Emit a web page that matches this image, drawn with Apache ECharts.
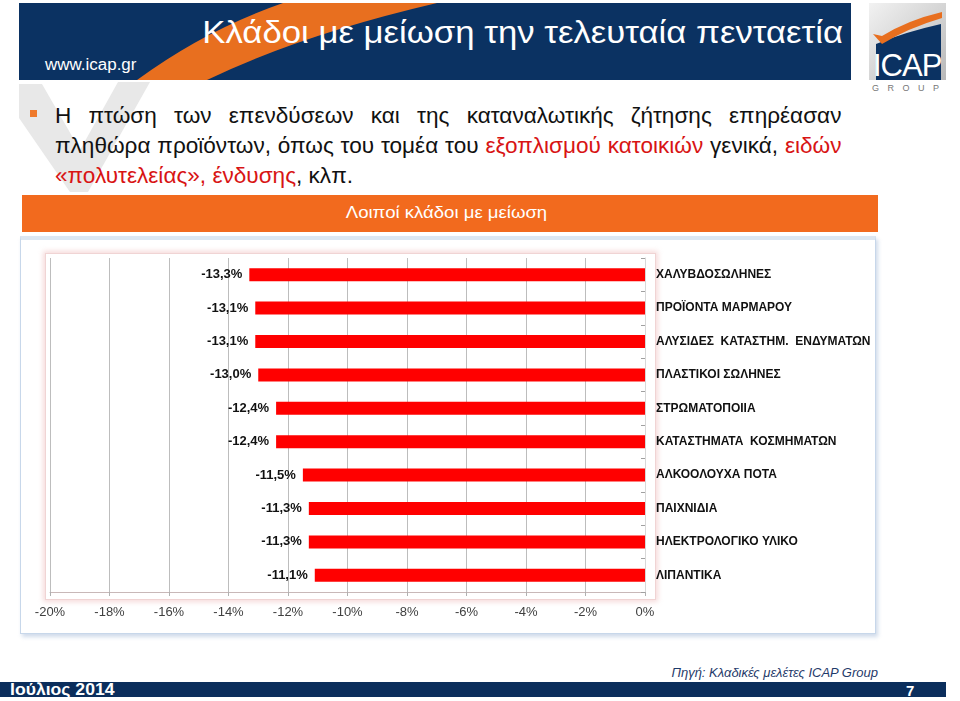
<!DOCTYPE html>
<html>
<head>
<meta charset="utf-8">
<script src="https://cdn.jsdelivr.net/npm/echarts@6/dist/echarts.min.js"></script>
<style>
  html, body { margin: 0; padding: 0; background: #fff; }
  body { width: 960px; height: 701px; position: relative; overflow: hidden;
         font-family: "Liberation Sans", Arial, sans-serif; }
  .abs { position: absolute; line-height: 1; white-space: nowrap; }
  .line { position: absolute; left: 55px; width: 749px; font-size: 21.5px; line-height: 1; color: #111;
          white-space: nowrap; transform: scaleX(1.05); transform-origin: left top; }
  .just { text-align: justify; text-align-last: justify; }
  .red { color: #d81414; }
  #chart { position: absolute; left: 0; top: 0; width: 960px; height: 701px; z-index: 5; }
</style>
</head>
<body>
  <!-- header -->
  <svg class="abs" style="left:0;top:0" width="960" height="200">
    <polygon points="19,84 42,84 80,150 118,82 150,82 88,192 70,192 19,118" fill="#e8e8e8"/>
    <rect x="19" y="3" width="832" height="77" fill="#0b3262"/>
    <path d="M137,80 Q205,30 283,3 L437,3 Q300,35 207,80 Z" fill="#e86f1f"/>
    <defs>
      <linearGradient id="lg" x1="0" y1="0" x2="1" y2="1">
        <stop offset="0" stop-color="#f2f2f2"/><stop offset="1" stop-color="#b8b8b8"/>
      </linearGradient>
    </defs>
    <rect x="869" y="3" width="77" height="77" fill="url(#lg)"/>
    <path d="M876,44 Q905,32 941,24 L941,80 L876,80 Z" fill="#0b3262"/>
    <path d="M873,34 L882,44 Q908,28 942,18 L942,12 Q908,20 882,36 Z" fill="#e86f1f"/>
  </svg>
  <div class="abs" style="left:873px;top:50px;font-size:31px;color:#fff;letter-spacing:-1px;">ICAP</div>
  <div class="abs" style="left:872px;top:84px;font-size:9px;color:#777;letter-spacing:8.5px;">GROUP</div>
  <div class="abs" style="right:117px;top:17px;font-size:31px;color:#fff;transform:scaleX(1.12);transform-origin:right top;">Κλάδοι με μείωση την τελευταία πενταετία</div>
  <div class="abs" style="left:45px;top:57px;font-size:16px;color:#fff;transform:scaleX(1.06);transform-origin:left top;">www.icap.gr</div>

  <!-- bullet text -->
  <div class="abs" style="left:30px;top:110px;width:7px;height:7px;background:#ef7a2c;"></div>
  <div class="line just" style="top:106px;">Η πτώση των επενδύσεων και της καταναλωτικής ζήτησης επηρέασαν</div>
  <div class="line just" style="top:136px;">πληθώρα προϊόντων, όπως του τομέα του <span class="red">εξοπλισμού κατοικιών</span> γενικά, <span class="red">ειδών</span></div>
  <div class="line" style="top:166px;"><span class="red">«πολυτελείας», ένδυσης</span>, κλπ.</div>

  <!-- orange chart title bar -->
  <div class="abs" style="left:22px;top:195px;width:856px;height:37px;background:#f26a1e;"></div>
  <div class="abs" style="left:22px;top:205px;width:856px;text-align:center;font-size:16px;color:#fff;transform:scaleX(1.16);transform-origin:450px top;">Λοιποί κλάδοι με μείωση</div>

  <!-- panels -->
  <div class="abs" style="left:20px;top:236px;width:854px;height:393px;background:#fff;border:1px solid #c7d7ea;border-top:4px solid #dce6f1;box-shadow:2px 3px 4px rgba(150,175,210,0.45);"></div>
  <div class="abs" style="left:45px;top:253px;width:609px;height:345px;background:#fff;border:1px solid #f0d4d4;box-shadow:0 0 5px 2px rgba(235,175,175,0.45);"></div>

  <!-- footer -->
  <div class="abs" style="right:82px;top:666px;font-size:13px;font-style:italic;color:#1f3a6a;">Πηγή: Κλαδικές μελέτες ICAP Group</div>
  <div class="abs" style="left:0;top:682px;width:946px;height:15px;background:#0b2e5c;"></div>
  <div class="abs" style="left:10px;top:682px;font-size:16px;font-weight:bold;color:#fff;transform:scaleX(1.1);transform-origin:left top;">Ιούλιος 2014</div>
  <div class="abs" style="left:906px;top:683px;font-size:15px;font-weight:bold;color:#fff;">7</div>

  <div id="chart"></div>

<script>
const categories = [
  "ΧΑΛΥΒΔΟΣΩΛΗΝΕΣ",
  "ΠΡΟΪΟΝΤΑ ΜΑΡΜΑΡΟΥ",
  "ΑΛΥΣΙΔΕΣ  ΚΑΤΑΣΤΗΜ.  ΕΝΔΥΜΑΤΩΝ",
  "ΠΛΑΣΤΙΚΟΙ ΣΩΛΗΝΕΣ",
  "ΣΤΡΩΜΑΤΟΠΟΙΙΑ",
  "ΚΑΤΑΣΤΗΜΑΤΑ  ΚΟΣΜΗΜΑΤΩΝ",
  "ΑΛΚΟΟΛΟΥΧΑ ΠΟΤΑ",
  "ΠΑΙΧΝΙΔΙΑ",
  "ΗΛΕΚΤΡΟΛΟΓΙΚΟ ΥΛΙΚΟ",
  "ΛΙΠΑΝΤΙΚΑ",
];
const values = [-13.3, -13.1, -13.1, -13.0, -12.4, -12.4, -11.5, -11.3, -11.3, -11.1];
const xMin = -20;
const xMax = 0;
const xStep = 2;

const font = '"Liberation Sans", Arial, sans-serif';

const chartInit = echarts.init(document.getElementById("chart"));
const option = {
  animation: false,
  grid: { left: 50, top: 258, width: 595, height: 334, containLabel: false },
  xAxis: {
    type: "value",
    min: xMin,
    max: xMax,
    interval: xStep,
    axisLine: { show: true, lineStyle: { color: "#c8b8b8" } },
    axisTick: { show: true, length: 4, lineStyle: { color: "#b0b0b0" } },
    splitLine: { show: true, lineStyle: { color: "#bdbdbd" } },
    axisLabel: {
      formatter: (v) => v + "%",
      color: "#404040",
      fontSize: 13,
      fontFamily: font,
      margin: 14,
    },
  },
  yAxis: {
    type: "category",
    data: categories,
    inverse: true,
    position: "right",
    axisLine: { show: true, lineStyle: { color: "#d8d8d8" } },
    axisTick: { show: true, inside: true, length: 4, lineStyle: { color: "#a0a0a0" } },
    splitLine: { show: false },
    axisLabel: {
      color: "#111",
      fontSize: 12,
      fontWeight: "bold",
      fontFamily: font,
      margin: 11,
    },
  },
  series: [
    {
      type: "bar",
      data: values,
      barWidth: 13,
      itemStyle: { color: "#ff0000" },
      label: {
        show: true,
        position: "left",
        distance: 7,
        color: "#111",
        fontSize: 13,
        fontWeight: "bold",
        fontFamily: font,
        formatter: (p) => p.value.toFixed(1).replace(".", ",") + "%",
      },
    },
  ],
};
chartInit.setOption(option, true);
</script>
</body>
</html>
